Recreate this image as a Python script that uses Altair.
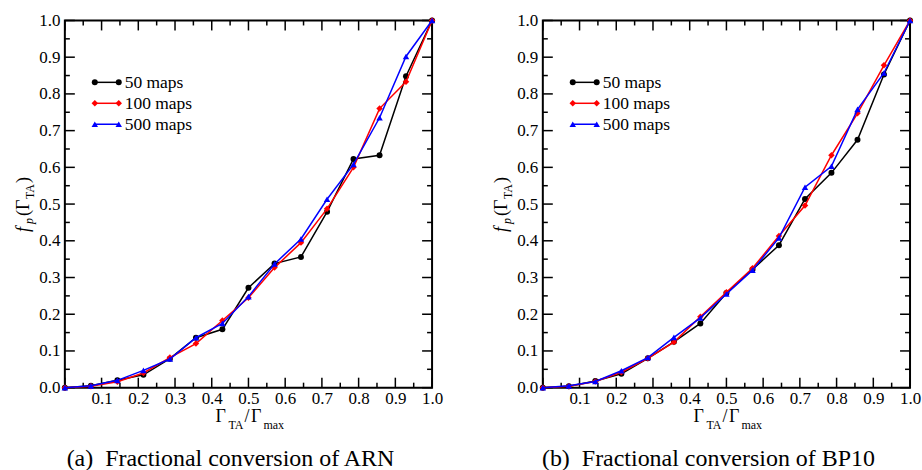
import altair as alt
import pandas as pd

# ---------------- data ----------------
x_vals = [0.0, 0.071, 0.143, 0.214, 0.286, 0.357, 0.429, 0.5, 0.571, 0.643, 0.714, 0.786, 0.857, 0.929, 1.0]

series_names = ["50 maps", "100 maps", "500 maps"]
series_colors = ["black", "#ff0000", "#0000ff"]
series_shapes = ["circle", "diamond", "triangle-up"]

arn_50 = [0.0, 0.005, 0.020, 0.035, 0.079, 0.136, 0.159, 0.272, 0.338, 0.356, 0.479, 0.623, 0.633, 0.848, 1.0]
arn_100 = [0.0, 0.004, 0.016, 0.040, 0.082, 0.120, 0.183, 0.245, 0.327, 0.395, 0.487, 0.600, 0.760, 0.833, 1.0]
arn_500 = [0.0, 0.005, 0.020, 0.047, 0.078, 0.136, 0.175, 0.248, 0.337, 0.405, 0.513, 0.608, 0.735, 0.902, 1.0]

bp10_50 = [0.0, 0.004, 0.018, 0.038, 0.080, 0.125, 0.175, 0.258, 0.322, 0.388, 0.514, 0.585, 0.675, 0.853, 1.0]
bp10_100 = [0.0, 0.004, 0.017, 0.042, 0.080, 0.124, 0.193, 0.260, 0.325, 0.413, 0.496, 0.633, 0.747, 0.878, 1.0]
bp10_500 = [0.0, 0.005, 0.017, 0.046, 0.082, 0.137, 0.190, 0.255, 0.320, 0.408, 0.546, 0.603, 0.758, 0.857, 1.0]

x_label_values = [0.1, 0.2, 0.3, 0.4, 0.5, 0.6, 0.7, 0.8, 0.9, 1.0]
y_label_values = [0.0, 0.1, 0.2, 0.3, 0.4, 0.5, 0.6, 0.7, 0.8, 0.9, 1.0]
major_ticks = [0.0, 0.1, 0.2, 0.3, 0.4, 0.5, 0.6, 0.7, 0.8, 0.9, 1.0]
minor_ticks = [0.05, 0.15, 0.25, 0.35, 0.45, 0.55, 0.65, 0.75, 0.85, 0.95]

captions = ["(a)\u2002Fractional conversion of ARN", "(b)\u2002Fractional conversion of BP10"]

# ---------------- layout constants ----------------
FONT = "Liberation Serif, Times New Roman, Times, serif"
W, H = 368, 368
MAJ, MIN = 10, 5

xscale = alt.Scale(domain=[0, 1], nice=False, zero=False)
yscale = alt.Scale(domain=[0, 1], nice=False, zero=False)
one = pd.DataFrame({"d": [0]})

xaxis = alt.Axis(values=x_label_values, format=".1f", ticks=False, domain=False, grid=False,
                 labelFont=FONT, labelFontSize=17, labelColor="black", labelPadding=3,
                 labelFlush=False, labelOverlap=False, title=None)
yaxis = alt.Axis(values=y_label_values, format=".1f", ticks=False, domain=False, grid=False,
                 labelFont=FONT, labelFontSize=17, labelColor="black", labelPadding=5,
                 labelFlush=False, labelOverlap=False, title=None)


def text_piece(s, x, y, size, angle=0, style="normal", align="left", baseline="alphabetic"):
    return alt.Chart(one).mark_text(
        text=s, font=FONT, fontSize=size, fontStyle=style, angle=angle,
        align=align, baseline=baseline, color="black"
    ).encode(x=alt.value(x), y=alt.value(y))


def tick_layers():
    layers = []
    for vals, L in ((major_ticks, MAJ), (minor_ticks, MIN)):
        df = pd.DataFrame({"x": vals, "y": vals})
        base = alt.Chart(df).mark_rule(color="black", strokeWidth=1.5)
        xt = alt.X("x:Q", scale=xscale, axis=xaxis)
        yt = alt.Y("y:Q", scale=yscale, axis=yaxis)
        layers.append(base.encode(x=xt, y=alt.value(H), y2=alt.value(H - L)))
        layers.append(base.encode(x=xt, y=alt.value(0), y2=alt.value(L)))
        layers.append(base.encode(y=yt, x=alt.value(0), x2=alt.value(L)))
        layers.append(base.encode(y=yt, x=alt.value(W), x2=alt.value(W - L)))
    return layers


def make_panel(values, caption, with_frame=False):
    layers = []
    if with_frame:
        layers.append(
            alt.Chart(one).mark_rect(fill="white", opacity=0).encode(
                x=alt.value(-64), x2=alt.value(858), y=alt.value(-19), y2=alt.value(451)
            )
        )
    layers += tick_layers()

    for name, col, shp, ys in zip(series_names, series_colors, series_shapes, values):
        df = pd.DataFrame({"x": x_vals, "y": ys})
        enc = dict(x=alt.X("x:Q", scale=xscale, axis=xaxis), y=alt.Y("y:Q", scale=yscale, axis=yaxis))
        layers.append(alt.Chart(df).mark_line(color=col, strokeWidth=1.5).encode(**enc))
        layers.append(alt.Chart(df).mark_point(color=col, filled=True, opacity=1, shape=shp,
                                               size=36 if shp == "circle" else 42).encode(**enc))

    # legend
    for i, (name, col, shp) in enumerate(zip(series_names, series_colors, series_shapes)):
        ly = 62 + 21 * i
        layers.append(alt.Chart(one).mark_rule(color=col, strokeWidth=1.5).encode(
            x=alt.value(30), x2=alt.value(54), y=alt.value(ly)))
        for lx in (30, 54):
            layers.append(alt.Chart(one).mark_point(color=col, filled=True, opacity=1, shape=shp,
                                                    size=36 if shp == "circle" else 42).encode(
                x=alt.value(lx), y=alt.value(ly)))
        layers.append(text_piece(name, 60, ly + 1, 17.5, baseline="middle"))

    # x title: Γ_TA / Γ_max
    layers.append(text_piece("\u0393", 151, H + 34, 18))
    layers.append(text_piece("TA", 164, H + 41, 12))
    layers.append(text_piece("/", 180, H + 34, 18))
    layers.append(text_piece("\u0393", 186.5, H + 34, 18))
    layers.append(text_piece("max", 199, H + 41, 12))

    # y title: f_p(Γ_TA)
    layers.append(text_piece("f", -36, 212, 18, angle=270, style="italic"))
    layers.append(text_piece("p", -31.5, 204, 12, angle=270, style="italic"))
    layers.append(text_piece("(\u0393", -36, 196, 18, angle=270))
    layers.append(text_piece("TA", -31, 179, 12, angle=270))
    layers.append(text_piece(")", -36, 163, 18, angle=270))

    # caption
    layers.append(text_piece(caption, 166, 446, 24, align="center"))

    return alt.layer(*layers).properties(width=W, height=H)


panel_a = make_panel([arn_50, arn_100, arn_500], captions[0], with_frame=True)
panel_b = make_panel([bp10_50, bp10_100, bp10_500], captions[1])

chart = alt.hconcat(panel_a, panel_b, spacing=111, bounds="flush").properties(
    padding=0, background="white"
).configure_view(stroke="black", strokeWidth=2)

chart.save("out.html", embed_options={"renderer": "svg", "actions": False})
